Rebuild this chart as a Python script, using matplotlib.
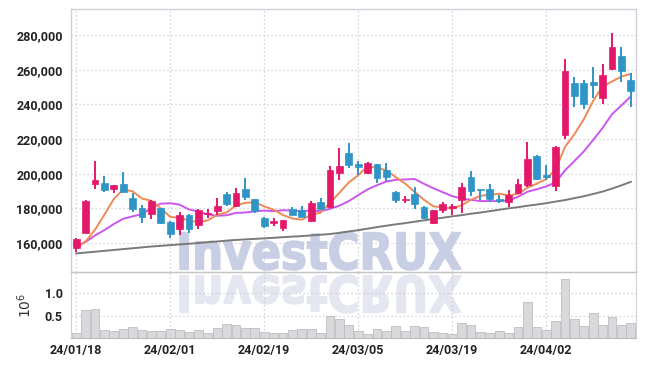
import numpy as np
import pandas as pd
import matplotlib
matplotlib.use("Agg")
import matplotlib.pyplot as plt
from matplotlib.textpath import TextPath
from matplotlib.patches import PathPatch
from matplotlib.font_manager import FontProperties
from matplotlib.transforms import Affine2D, IdentityTransform

# ---------------- data ----------------
holidays = ["2024-02-09", "2024-02-12", "2024-03-01", "2024-04-10"]
dates = [d for d in pd.bdate_range("2024-01-18", "2024-04-16") if d.strftime("%Y-%m-%d") not in holidays]
date_labels = [d.strftime("%y/%m/%d") for d in dates]

opens = [157100, 165900, 193900, 194800, 191300, 194000, 186100, 180000, 176600, 180000,
         172300, 167900, 176000, 170400, 176900, 178600, 188300, 181500, 191100, 185200,
         174700, 171400, 168500, 179400, 179000, 172900, 183800, 180900, 200200, 211700,
         205400, 200600, 205400, 202100, 189600, 185000, 188300, 180900, 171700, 179000,
         180000, 184800, 198200, 191100, 191100, 185200, 183800, 188900, 193500, 210200,
         199200, 193100, 222300, 252500, 252500, 253100, 243800, 260400, 267900, 254000]
highs = [162800, 184800, 207500, 198600, 193500, 201100, 188700, 181900, 184800, 180500,
         172800, 178000, 176500, 179400, 179400, 185800, 189600, 191600, 197700, 185600,
         175300, 174200, 173300, 180800, 181300, 184400, 185800, 204500, 214600, 217500,
         207500, 207000, 205800, 206000, 190000, 186900, 192300, 181200, 179200, 183800,
         182300, 194800, 201500, 191100, 193900, 187700, 190600, 196700, 218400, 210500,
         205000, 216000, 266000, 255900, 254000, 261400, 263300, 281000, 272900, 258300]
lows = [154900, 165900, 191100, 189200, 188700, 188900, 178100, 171700, 173700, 170800,
        162700, 164700, 165900, 167900, 174200, 176200, 181500, 181000, 185100, 177500,
        168900, 170000, 167000, 175900, 174800, 172300, 179200, 180500, 196300, 203500,
        199200, 200000, 194400, 195600, 182900, 182900, 179900, 173700, 171200, 177500,
        176200, 177500, 187100, 184800, 183800, 183300, 180900, 188500, 192500, 196400,
        196300, 190000, 219800, 238600, 237100, 243500, 240200, 260000, 253100, 238600]
closes = [162300, 184200, 196300, 190600, 193500, 189600, 179400, 175200, 184200, 171700,
          165200, 176000, 168200, 179000, 177100, 181300, 182500, 188700, 186400, 178600,
          169600, 172900, 173300, 176400, 175200, 183300, 179600, 202100, 204600, 205000,
          204000, 206000, 197300, 197900, 184800, 185300, 182500, 174200, 179000, 182300,
          181300, 192100, 190000, 190500, 185200, 184400, 187700, 193900, 208300, 196900,
          197900, 215200, 259200, 244800, 240000, 251200, 256900, 272900, 259200, 247900]
# closes of the 9 sessions before the window (estimated from where the MA lines start)
prior_closes = [158000, 159000, 159500, 158500, 159300, 165300, 162600, 147200, 148300]
# long moving average (grey)
ma_long = [154000, 154500, 155000, 155500, 156000, 156500, 157000, 157500, 158000, 158400,
           158800, 159200, 159600, 160000, 160500, 160900, 161400, 161800, 162100, 162400,
           162700, 163000, 163400, 163700, 164000, 164400, 164800, 165200, 165900, 166700,
           167400, 168300, 169200, 170000, 170800, 171500, 172300, 173100, 173900, 174600,
           175400, 176100, 176900, 177600, 178400, 179200, 180000, 180700, 181500, 182200,
           183000, 183900, 184800, 185900, 187000, 188300, 189700, 191400, 193300, 195300]
volumes = [0.12, 0.63, 0.65, 0.17, 0.15, 0.21, 0.24, 0.17, 0.15, 0.15,
           0.19, 0.17, 0.13, 0.17, 0.12, 0.22, 0.32, 0.28, 0.23, 0.22,
           0.14, 0.12, 0.12, 0.17, 0.21, 0.19, 0.12, 0.50, 0.43, 0.29,
           0.15, 0.10, 0.19, 0.15, 0.26, 0.15, 0.26, 0.24, 0.14, 0.12,
           0.10, 0.34, 0.29, 0.14, 0.12, 0.15, 0.12, 0.24, 0.81, 0.24,
           0.18, 0.37, 1.32, 0.43, 0.26, 0.56, 0.29, 0.47, 0.29, 0.34]  # x 10^6

price_ticks = [160000, 180000, 200000, 220000, 240000, 260000, 280000]
vol_ticks = [0.5, 1.0]
label_every = 10

# ---------------- derived ----------------
n = len(closes)
x = np.arange(n)
all_close = pd.Series(prior_closes + closes)
ma5 = all_close.rolling(5).mean().values[-n:]
ma10 = all_close.rolling(10).mean().values[-n:]

o = np.array(opens); c = np.array(closes); h = np.array(highs); l = np.array(lows)
up = c >= o
UP = "#e3186b"
DOWN = "#2f95c6"
colors = np.where(up, UP, DOWN)

plt.rcParams["font.family"] = ["Roboto", "DejaVu Sans"]

W, H = 645, 366
fig = plt.figure(figsize=(W / 100, H / 100), dpi=100)
fig.patch.set_facecolor("white")

def fx(px):
    return px / W

def fy(py):
    return 1 - py / H

L, R = 71, 636
ax = fig.add_axes([fx(L), fy(272), fx(R - L), fy(9) - fy(272)])
axv = fig.add_axes([fx(L), fy(338), fx(R - L), fy(272) - fy(338)], sharex=ax)
for a in (ax, axv):
    a.set_facecolor("none")

grid_kw = dict(color="#c6c6d6", linewidth=0.9, linestyle=(0, (1, 2.2)))

# watermark
fp = FontProperties(family="DejaVu Sans", weight="bold")
tp = TextPath((0, 0), "InvestCRUX", size=100, prop=fp)
bb = tp.get_extents()
x0, x1 = 180, 461
sx = (x1 - x0) / bb.width
top_px, base_px = 232, 270
sy = (base_px - top_px) / bb.height
t_main = Affine2D().translate(-bb.x0, -bb.y0).scale(sx, sy).translate(x0, H - base_px)
wm = PathPatch(t_main.transform_path(tp), facecolor="#c8cee4", edgecolor="#c8cee4",
               linewidth=1.2, transform=IdentityTransform(), zorder=0.5, clip_on=False)
ax.add_artist(wm)
t_ref = Affine2D().translate(-bb.x0, -bb.y0).scale(sx, -sy).translate(x0, H - 275)
wr = PathPatch(t_ref.transform_path(tp), facecolor="#e5e7f0", edgecolor="#e5e7f0",
               linewidth=1.2, transform=IdentityTransform(), zorder=0.5, clip_on=False)
axv.add_artist(wr)

# candles
ax.vlines(x, l, h, colors=colors, linewidth=1.4, zorder=3)
body_bottom = np.minimum(o, c)
body_h = np.maximum(np.abs(c - o), 500)
ax.bar(x, body_h, bottom=body_bottom, width=0.72, color=colors, edgecolor=colors,
       linewidth=0.5, zorder=4)

ax.plot(x, ma_long, color="#7a7a7a", linewidth=1.4, zorder=2.5)
ax.plot(x, ma10, color="#cc55ee", linewidth=1.4, zorder=2.6)
ax.plot(x, ma5, color="#f08a55", linewidth=1.4, zorder=2.7)

ax.set_ylim(143300, 295000)
ax.set_xlim(-0.55, n - 0.45)
ax.set_yticks(price_ticks)
ax.set_yticklabels([f"{v:,}" for v in price_ticks])
ax.yaxis.grid(True, **grid_kw)
ax.xaxis.grid(True, **grid_kw)
ax.set_axisbelow(True)
ax.tick_params(axis="both", length=0, labelsize=9, colors="#222222", pad=6)
ax.tick_params(axis="x", labelbottom=False)
for s in ax.spines.values():
    s.set_color("#d0d0d8")
    s.set_linewidth(1)
ax.spines["bottom"].set_color("#c4c4c4")

# volume
axv.bar(x, volumes, width=0.95, color="#d9d9dc", edgecolor="#bdbdc2", linewidth=0.6, zorder=2)
axv.set_ylim(0, 1.47)
axv.set_yticks(vol_ticks)
axv.set_yticklabels([f"{v:.1f}" for v in vol_ticks])
axv.yaxis.grid(True, **grid_kw)
axv.xaxis.grid(True, **grid_kw)
axv.set_axisbelow(True)
tick_pos = list(range(0, n, label_every))
axv.set_xticks(tick_pos)
axv.set_xticklabels([date_labels[i] for i in tick_pos])
axv.tick_params(axis="both", length=0, labelsize=9, colors="#222222")
axv.tick_params(axis="y", pad=6)
axv.tick_params(axis="x", pad=4)
for s in axv.spines.values():
    s.set_color("#d0d0d8")
axv.spines["top"].set_color("#c4c4c4")
axv.spines["bottom"].set_color("#bbbbbb")
axv.set_ylabel(r"$10^6$", fontsize=10, color="#333333", labelpad=8)

for lab in ax.get_yticklabels() + axv.get_yticklabels() + axv.get_xticklabels():
    lab.set_fontweight("bold")

fig.savefig("out.png", dpi=100)
